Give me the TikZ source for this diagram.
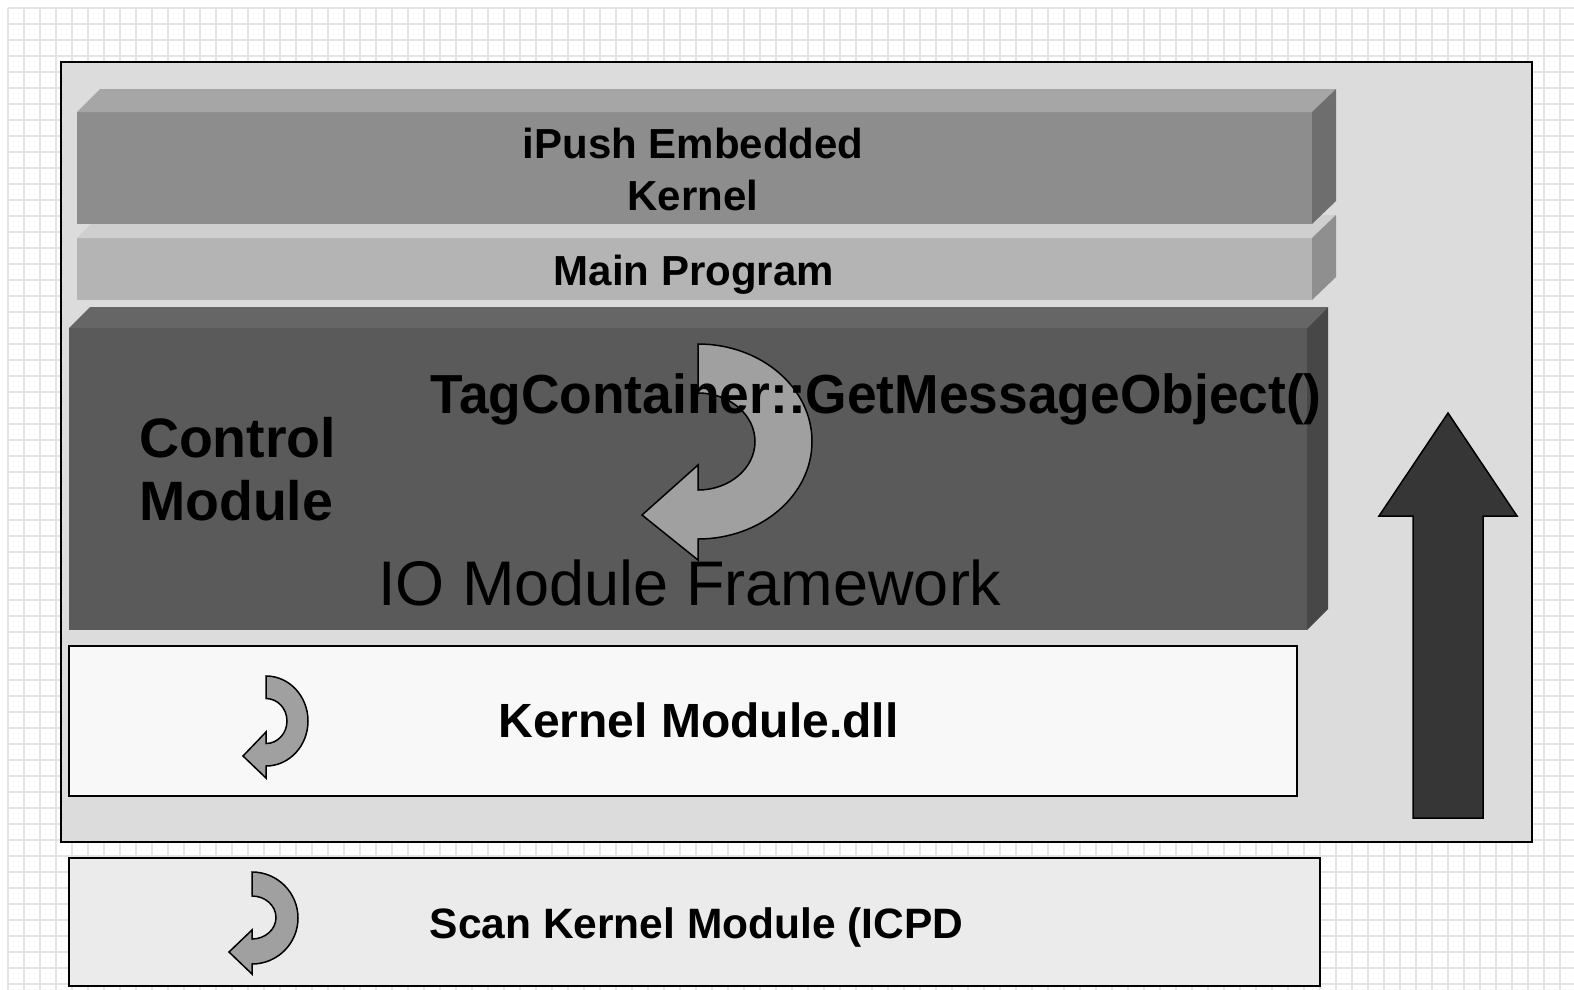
\documentclass[tikz,border=0pt]{standalone}
\usepackage{fontspec}
\setmainfont{Liberation Sans}
\usepackage{graphicx}
\definecolor{gridc}{HTML}{E4E4E4}
\definecolor{framebg}{HTML}{DCDCDC}
\definecolor{bAfront}{HTML}{8D8D8D}
\definecolor{bAtop}{HTML}{A6A6A6}
\definecolor{bAside}{HTML}{6E6E6E}
\definecolor{bBfront}{HTML}{B4B4B4}
\definecolor{bBtop}{HTML}{CFCFCF}
\definecolor{bBside}{HTML}{8F8F8F}
\definecolor{bCfront}{HTML}{5A5A5A}
\definecolor{bCtop}{HTML}{666666}
\definecolor{bCside}{HTML}{474747}
\definecolor{kernbg}{HTML}{F8F8F8}
\definecolor{scanbg}{HTML}{EBEBEB}
\definecolor{curvegray}{HTML}{A0A0A0}
\definecolor{uparrow}{HTML}{363636}
\begin{document}
\begin{tikzpicture}[x=1pt,y=1pt,
  txt/.style={inner sep=0pt, outer sep=0pt, text=black},
  curvarrow/.style={fill=curvegray, draw=black, line width=1.5pt, line join=miter},
  flatbox/.style={draw=black, line width=2pt}]
\useasboundingbox (0,0) rectangle (1574,-990);
\fill[white] (0,0) rectangle (1574,-990);
% background grid
\foreach \i in {8,24,...,1574} \draw[gridc, line width=1.5pt] (\i,-8) -- (\i,-990);
\foreach \j in {8,24,...,990} \draw[gridc, line width=1.5pt] (8,-\j) -- (1574,-\j);
% outer frame
\draw[flatbox, fill=framebg] (61,-62) rectangle (1532,-842);
% box B: Main Program (drawn first, box A overlaps its top face)
\fill[bBfront] (77,-238) rectangle (1312,-300);
\fill[bBtop] (77,-238) -- (100,-215) -- (1336,-215) -- (1312,-238) -- cycle;
\fill[bBside] (1312,-238) -- (1336,-215) -- (1336,-277) -- (1312,-300) -- cycle;
% box A: iPush Embedded Kernel
\fill[bAfront] (77,-112) rectangle (1312,-224);
\fill[bAtop] (77,-112) -- (100,-89) -- (1336,-89) -- (1312,-112) -- cycle;
\fill[bAside] (1312,-112) -- (1336,-89) -- (1336,-201) -- (1312,-224) -- cycle;
% box C: IO Module Framework
\fill[bCfront] (69,-328) rectangle (1307,-630);
\fill[bCtop] (69,-328) -- (90,-307) -- (1328,-307) -- (1307,-328) -- cycle;
\fill[bCside] (1307,-328) -- (1328,-307) -- (1328,-609) -- (1307,-630) -- cycle;
% kernel module box
\draw[flatbox, fill=kernbg] (69,-646) rectangle (1297,-796);
% scan kernel box
\draw[flatbox, fill=scanbg] (69,-858) rectangle (1320,-986);
% big up arrow
\draw[fill=uparrow, draw=black, line width=1.5pt, line join=miter]
  (1448,-413) -- (1517,-516) -- (1483,-516) -- (1483,-818) -- (1413,-818)
  -- (1413,-516) -- (1379,-516) -- cycle;
% big curved arrow
\draw[curvarrow] (698,-344) arc[start angle=90, end angle=-90, x radius=114, y radius=97.5]
  -- (698,-560) -- (642,-515) -- (698,-465) -- (698,-490)
  arc[start angle=-90, end angle=90, x radius=57, y radius=48.5] -- cycle;
% small curved arrow (kernel)
\draw[curvarrow] (266,-676) arc[start angle=90, end angle=-90, x radius=42, y radius=45]
  -- (266,-778) -- (243,-756) -- (266,-732) -- (266,-743.5)
  arc[start angle=-90, end angle=90, x radius=21, y radius=22.5] -- cycle;
% small curved arrow (scan)
\draw[curvarrow] (252,-872) arc[start angle=90, end angle=-90, x radius=46, y radius=46]
  -- (252,-974) -- (229,-952) -- (252,-930) -- (252,-939)
  arc[start angle=-90, end angle=90, x radius=24, y radius=21.5] -- cycle;
% texts
\node[txt, anchor=north, align=center, font=\bfseries\fontsize{42}{52}\selectfont] (ipush) at (693,-128) {iPush Embedded\\Kernel};
\node[txt, anchor=base, font=\bfseries\fontsize{42}{52}\selectfont] (mainprog) at (694,-285) {Main Program};
\node[txt, anchor=north west, align=left, font=\bfseries\fontsize{55.5}{63}\selectfont] (control) at (139,-417) {Control\\Module};
\node[txt, anchor=base, font=\bfseries\fontsize{55}{60}\selectfont] (tagc) at (876,-413) {\scalebox{0.97}[1]{TagContainer::GetMessageObject()}};
\node[txt, anchor=base, font=\fontsize{63}{70}\selectfont] (iofw) at (690,-605) {IO Module Framework};
\node[txt, anchor=base, font=\bfseries\fontsize{48}{56}\selectfont] (kmod) at (698.5,-737) {Kernel Module.dll};
\node[txt, anchor=base, font=\bfseries\fontsize{42.5}{50}\selectfont] (scan) at (696.5,-938) {Scan Kernel Module (ICPD};
\end{tikzpicture}
\end{document}
